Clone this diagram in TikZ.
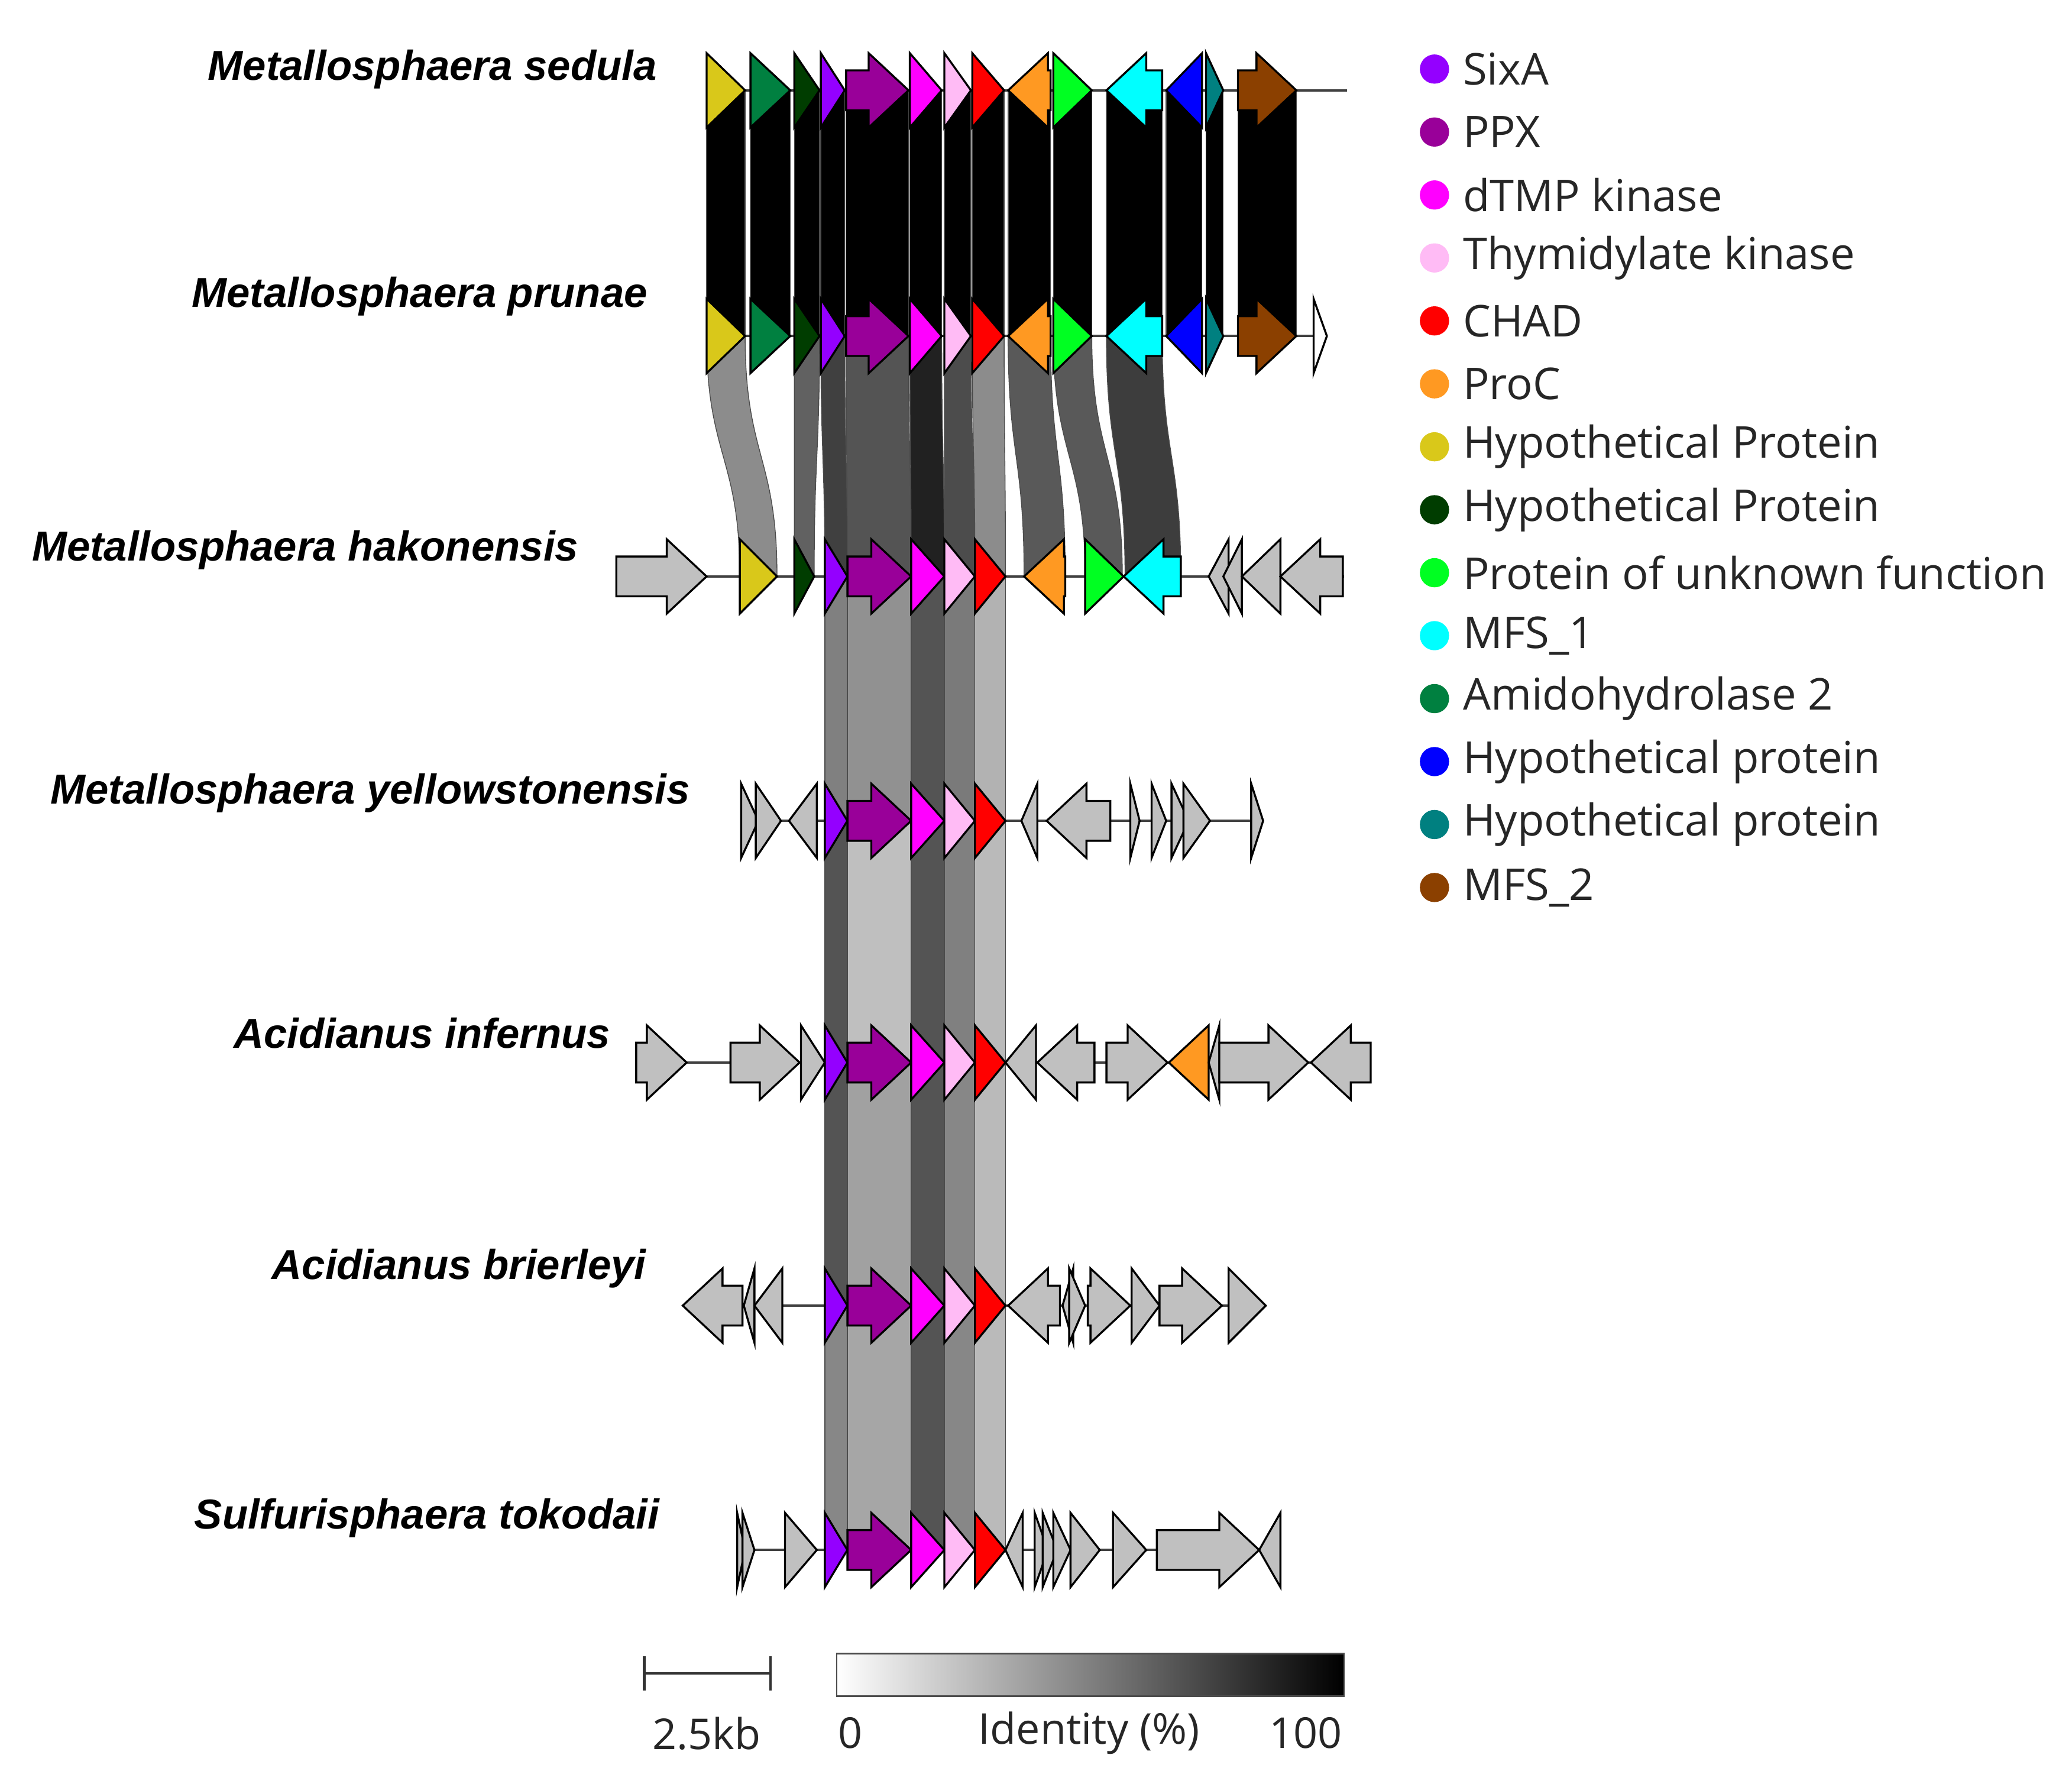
\documentclass[tikz,border=0pt]{standalone}
\usepackage{fontspec}
\newfontfamily\lab{Liberation Sans}
\newfontfamily\leg{Open Sans}
\definecolor{cSix}{HTML}{9400FF}
\definecolor{cPPX}{HTML}{990099}
\definecolor{cdT}{HTML}{FF00FF}
\definecolor{cTh}{HTML}{FFBBF5}
\definecolor{cCH}{HTML}{FF0000}
\definecolor{cPro}{HTML}{FF9922}
\definecolor{cHy}{HTML}{D9C81A}
\definecolor{cHg}{HTML}{003D00}
\definecolor{cUn}{HTML}{00FF22}
\definecolor{cM1}{HTML}{00FFFF}
\definecolor{cAm}{HTML}{008040}
\definecolor{cHb}{HTML}{0000FF}
\definecolor{cHt}{HTML}{008080}
\definecolor{cM2}{HTML}{8B4000}
\definecolor{cG}{HTML}{C0C0C0}
\newcommand\gene[4]{%
 \pgfmathsetmacro\gL{abs(#2-#1)}%
 \pgfmathsetmacro\gb{#2-(#2-#1)/\gL*min(\gL,30)}%
 \draw[gene,fill=#4] (#1,#3-15) -- (\gb,#3-15) -- (\gb,#3-28) -- (#2,#3) -- (\gb,#3+28) -- (\gb,#3+15) -- (#1,#3+15) -- cycle;}
\newcommand\band[7]{%
 \pgfmathsetmacro\ym{(#3+#6)/2}%
 \filldraw[draw=black!70,line width=0.6pt,fill=#7] (#1,#3) .. controls (#1,\ym) and (#4,\ym) .. (#4,#6) -- (#5,#6) .. controls (#5,\ym) and (#2,\ym) .. (#2,#3) -- cycle;}
\newcommand\core[6]{%
 \band{621}{638}{#1}{621}{638}{#2}{#3}\band{638}{686}{#1}{638}{686}{#2}{#4}%
 \band{686}{711}{#1}{686}{711}{#2}{#5}\band{711}{734}{#1}{711}{734}{#2}{#6}}
\begin{document}
\begin{tikzpicture}[x=1pt,y=-1pt,
 gene/.style={draw=black,line width=1.5pt,line join=miter},
 bb/.style={draw=black!75,line width=1.8pt},
 lbl/.style={anchor=east,font=\lab\bfseries\itshape\fontsize{31.5}{34}\selectfont},
 lg/.style={anchor=west,font=\leg\fontsize{33}{36}\selectfont,text=black!85},
 sc/.style={font=\leg\fontsize{32}{36}\selectfont,text=black!85}]
\useasboundingbox (0,0) rectangle (1560,1331);
\foreach \a/\b in {532/561,565/595,598/617,618/636,637/684,685/709,711/731,732/756,759/791,793/822,833/875,878/905,908/921,932/976}
 \band{\a}{\b}{68}{\a}{\b}{253}{black};
\band{532}{561}{253}{557}{585}{434}{black!45}
\band{598}{617}{253}{598}{613}{434}{black!62}
\band{618}{636}{253}{621}{638}{434}{black!75}
\band{637}{684}{253}{638}{686}{434}{black!67}
\band{685}{709}{253}{686}{711}{434}{black!87}
\band{711}{731}{253}{711}{734}{434}{black!70}
\band{732}{756}{253}{734}{757}{434}{black!45}
\band{759}{791}{253}{771}{802}{434}{black!65}
\band{793}{822}{253}{817}{845}{434}{black!65}
\band{833}{875}{253}{847}{889}{434}{black!76}
\core{434}{618}{black!50}{black!43}{black!67}{black!52}
\band{734}{757}{434}{734}{757}{618}{black!30}
\core{618}{800}{black!67}{black!25}{black!67}{black!50}
\band{734}{757}{618}{734}{757}{800}{black!27}
\core{800}{983}{black!67}{black!37}{black!67}{black!47}
\band{734}{757}{800}{734}{757}{983}{black!27}
\core{983}{1167}{black!47}{black!35}{black!67}{black!47}
\band{734}{757}{983}{734}{757}{1167}{black!27}
% sedula
\draw[bb] (532,68) -- (1014,68);
\gene{532}{561}{68}{cHy}\gene{565}{595}{68}{cAm}\gene{598}{617}{68}{cHg}
\gene{618}{636}{68}{cSix}\gene{637}{684}{68}{cPPX}\gene{685}{709}{68}{cdT}
\gene{711}{731}{68}{cTh}\gene{732}{756}{68}{cCH}\gene{791}{759}{68}{cPro}
\gene{793}{822}{68}{cUn}\gene{875}{833}{68}{cM1}\gene{905}{878}{68}{cHb}
\gene{908}{921}{68}{cHt}\gene{932}{976}{68}{cM2}
% prunae
\draw[bb] (532,253) -- (995,253);
\gene{532}{561}{253}{cHy}\gene{565}{595}{253}{cAm}\gene{598}{617}{253}{cHg}
\gene{618}{636}{253}{cSix}\gene{637}{684}{253}{cPPX}\gene{685}{709}{253}{cdT}
\gene{711}{731}{253}{cTh}\gene{732}{756}{253}{cCH}\gene{791}{759}{253}{cPro}
\gene{793}{822}{253}{cUn}\gene{875}{833}{253}{cM1}\gene{905}{878}{253}{cHb}
\gene{908}{921}{253}{cHt}\gene{932}{976}{253}{cM2}\gene{989}{999}{253}{white}
% hakonensis
\draw[bb] (530,434) -- (1012,434);
\gene{464}{532}{434}{cG}\gene{557}{585}{434}{cHy}\gene{598}{613}{434}{cHg}
\gene{621}{638}{434}{cSix}\gene{638}{686}{434}{cPPX}\gene{686}{711}{434}{cdT}
\gene{711}{734}{434}{cTh}\gene{734}{757}{434}{cCH}\gene{802}{771}{434}{cPro}
\gene{817}{846}{434}{cUn}\gene{889}{846}{434}{cM1}
\gene{925}{910}{434}{cG}\gene{935}{921}{434}{cG}\gene{964}{935}{434}{cG}\gene{1011}{964}{434}{cG}
% yellowstonensis
\draw[bb] (558,618) -- (951,618);
\gene{558}{571}{618}{cG}\gene{569}{588}{618}{cG}\gene{615}{594}{618}{cG}
\gene{621}{638}{618}{cSix}\gene{638}{686}{618}{cPPX}\gene{686}{711}{618}{cdT}
\gene{711}{734}{618}{cTh}\gene{734}{757}{618}{cCH}
\gene{781}{769}{618}{cG}\gene{836}{788}{618}{cG}\gene{851}{858}{618}{cG}
\gene{867}{878}{618}{cG}\gene{882}{895}{618}{cG}\gene{891}{911}{618}{cG}\gene{942}{951}{618}{cG}
% infernus
\draw[bb] (515,800) -- (1032,800);
\gene{479}{517}{800}{cG}\gene{550}{602}{800}{cG}\gene{603}{621}{800}{cG}
\gene{621}{638}{800}{cSix}\gene{638}{686}{800}{cPPX}\gene{686}{711}{800}{cdT}
\gene{711}{734}{800}{cTh}\gene{734}{757}{800}{cCH}
\gene{780}{757}{800}{cG}\gene{824}{781}{800}{cG}\gene{833}{879}{800}{cG}
\gene{910}{880}{800}{cPro}\gene{918}{910}{800}{cG}\gene{918}{985}{800}{cG}\gene{1032}{987}{800}{cG}
% brierleyi
\draw[bb] (514,983) -- (953,983);
\gene{559}{514}{983}{cG}\gene{568}{560}{983}{cG}\gene{589}{568}{983}{cG}
\gene{621}{638}{983}{cSix}\gene{638}{686}{983}{cPPX}\gene{686}{711}{983}{cdT}
\gene{711}{734}{983}{cTh}\gene{734}{757}{983}{cCH}
\gene{798}{759}{983}{cG}\gene{808}{800}{983}{cG}\gene{805}{817}{983}{cG}
\gene{819}{851}{983}{cG}\gene{852}{873}{983}{cG}\gene{873}{920}{983}{cG}\gene{925}{953}{983}{cG}
% tokodaii
\draw[bb] (555,1167) -- (964,1167);
\gene{555}{561}{1167}{cG}\gene{559}{568}{1167}{cG}\gene{591}{615}{1167}{cG}
\gene{621}{638}{1167}{cSix}\gene{638}{686}{1167}{cPPX}\gene{686}{711}{1167}{cdT}
\gene{711}{734}{1167}{cTh}\gene{734}{757}{1167}{cCH}
\gene{770}{757}{1167}{cG}\gene{779}{789}{1167}{cG}\gene{785}{796}{1167}{cG}\gene{793}{806}{1167}{cG}
\gene{806}{828}{1167}{cG}\gene{838}{863}{1167}{cG}\gene{871}{948}{1167}{cG}\gene{964}{948}{1167}{cG}
% labels
\node[lbl] (l1) at (498,52) {Metallosphaera sedula};
\node[lbl] (l2) at (491,223) {Metallosphaera prunae};
\node[lbl] (l3) at (439,414) {Metallosphaera hakonensis};
\node[lbl] (l4) at (523,597) {Metallosphaera yellowstonensis};
\node[lbl] (l5) at (463,778) {Acidianus infernus};
\node[lbl] (l6) at (490,955) {Acidianus brierleyi};
\node[lbl] (l7) at (500,1143) {Sulfurisphaera tokodaii};
% legend
\foreach \c/\t [count=\i from 0] in {cSix/SixA,cPPX/PPX,cdT/dTMP kinase,cTh/Thymidylate kinase,cCH/CHAD,cPro/ProC,cHy/Hypothetical Protein,cHg/Hypothetical Protein,cUn/Protein of unknown function,cM1/MFS\_1,cAm/Amidohydrolase 2,cHb/Hypothetical protein,cHt/Hypothetical protein,cM2/MFS\_2}{
 \fill[\c] (1080,52+47.4*\i) circle (11);
 \node[lg] (g\i) at (1098,52+47.4*\i) {\t};}
% scale bar and colour bar
\draw[line width=2pt,black!80] (485,1260) -- (580,1260) (485,1247) -- (485,1273) (580,1247) -- (580,1273);
\node[sc] (kb) at (532,1305) {2.5kb};
\shade[left color=white,right color=black] (630,1245) rectangle (1012,1277);
\draw[black!70,line width=1pt] (630,1245) rectangle (1012,1277);
\node[sc] (z) at (640,1305) {0};
\node[sc] (id) at (820,1305) {Identity (\%)};
\node[sc] (h) at (983,1305) {100};
\end{tikzpicture}
\end{document}
